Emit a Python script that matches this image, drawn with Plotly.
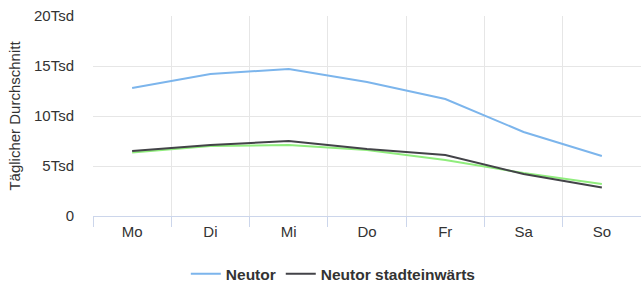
import plotly.graph_objects as go

days = ["Mo", "Di", "Mi", "Do", "Fr", "Sa", "So"]
neutor = [12800, 14200, 14700, 13400, 11700, 8400, 6000]
neutor_stadt = [6500, 7100, 7500, 6700, 6100, 4200, 2850]
neutor_aus = [6350, 7000, 7100, 6600, 5600, 4300, 3200]
y_tickvals = [0, 5000, 10000, 15000, 20000]
y_ticktext = ["0", "5Tsd", "10Tsd", "15Tsd", "20Tsd"]

fig = go.Figure()
fig.add_trace(go.Scatter(x=days, y=neutor, mode="lines", name="Neutor",
                         line=dict(color="#7cb5ec", width=2)))
fig.add_trace(go.Scatter(x=days, y=neutor_aus, mode="lines", name="Neutor stadtauswärts",
                         line=dict(color="#90ed7d", width=2), showlegend=False))
fig.add_trace(go.Scatter(x=days, y=neutor_stadt, mode="lines", name="Neutor stadteinwärts",
                         line=dict(color="#434348", width=2)))

fig.update_layout(
    width=641, height=288,
    margin=dict(l=93, r=0, t=16, b=72, autoexpand=False),
    paper_bgcolor="white", plot_bgcolor="white",
    font=dict(family="Liberation Sans, Arial, sans-serif", size=15, color="#333333"),
    showlegend=True,
    legend=dict(orientation="h", x=0.52, xref="container", xanchor="center",
                y=0.048, yref="container", yanchor="middle",
                font=dict(size=15.5, color="#333333", weight="bold"), itemwidth=30,
                traceorder="normal"),
)
fig.update_xaxes(
    type="category", range=[-0.5, 6.5], automargin=False,
    showgrid=True, gridcolor="#e6e6e6", gridwidth=1,
    tickson="boundaries", ticks="outside", ticklen=10, tickcolor="#ccd6eb",
    showline=True, linecolor="#ccd6eb", linewidth=1,
    tickfont=dict(size=15, color="#333333"), zeroline=False,
    ticklabelstandoff=2,
)
fig.update_yaxes(
    range=[0, 20000], tickvals=y_tickvals, ticktext=y_ticktext, automargin=False,
    showgrid=True, gridcolor="#e6e6e6", gridwidth=1, zeroline=False,
    ticks="", ticklabelstandoff=18,
    title=dict(text="Täglicher Durchschnitt", font=dict(size=15, color="#333333"), standoff=9),
    tickfont=dict(size=15, color="#333333"),
)
fig.write_html("out.html", config={"displayModeBar": False},
               post_script="document.body.style.margin='0px';document.body.style.overflow='hidden';")
